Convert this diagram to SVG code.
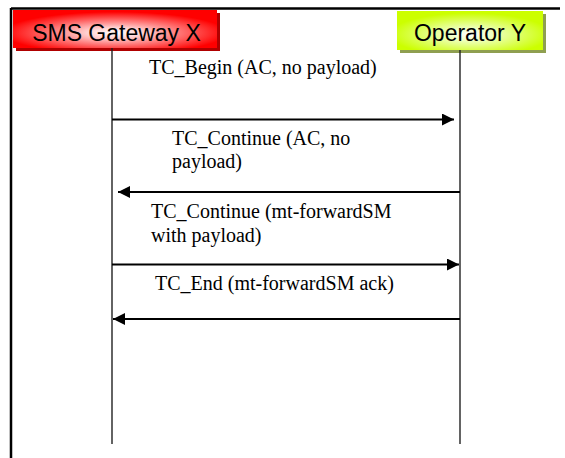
<svg xmlns="http://www.w3.org/2000/svg" width="565" height="458" viewBox="0 0 565 458">
  <style>
    .frame { stroke: #000; stroke-width: 2.5; fill: none; }
    .life { stroke: #222; stroke-width: 1.4; fill: none; }
    .msg { stroke: #000; stroke-width: 1.8; fill: none; marker-end: url(#arrow); }
    .hdr { font-family: "Liberation Sans", Arial, sans-serif; font-size: 23px; fill: #000; text-anchor: middle; }
    .lbl { font-family: "Liberation Serif", "Times New Roman", serif; font-size: 20px; fill: #000; }
  </style>
  <defs>
    <radialGradient id="gRed" cx="50%" cy="60%" r="55%">
      <stop offset="0" stop-color="#ffffff"/>
      <stop offset="0.25" stop-color="#ffd0d0"/>
      <stop offset="1" stop-color="#ff0000"/>
    </radialGradient>
    <radialGradient id="gGreen" cx="50%" cy="60%" r="55%">
      <stop offset="0" stop-color="#ffffff"/>
      <stop offset="0.25" stop-color="#f0ffc8"/>
      <stop offset="1" stop-color="#ccff00"/>
    </radialGradient>
    <marker id="arrow" markerUnits="userSpaceOnUse" markerWidth="12" markerHeight="12" refX="12" refY="6" orient="auto">
      <path d="M0,0 L12,6 L0,12 z" fill="#000"/>
    </marker>
  </defs>

  <g id="frame">
    <line class="frame" x1="11" y1="8.5" x2="560" y2="8.5"/>
    <line class="frame" x1="11" y1="8" x2="11" y2="458"/>
  </g>

  <g id="gateway">
    <rect x="16" y="13" width="204" height="38" fill="#b00000"/>
    <rect x="13" y="10" width="204" height="38" fill="url(#gRed)"/>
    <text class="hdr" x="116.5" y="41">SMS Gateway X</text>
    <line class="life" x1="112" y1="48" x2="112" y2="444"/>
  </g>

  <g id="operator">
    <rect x="400" y="14" width="146" height="39" fill="#8f9f50"/>
    <rect x="397" y="11" width="146" height="39" fill="url(#gGreen)"/>
    <text class="hdr" x="470" y="41">Operator Y</text>
    <line class="life" x1="460" y1="50" x2="460" y2="444"/>
  </g>

  <g id="connectors">
    <line class="msg" x1="112" y1="119.5" x2="454" y2="119.5"/>
    <line class="msg" x1="460" y1="192" x2="118" y2="192"/>
    <line class="msg" x1="112" y1="264.5" x2="459" y2="264.5"/>
    <line class="msg" x1="460" y1="319" x2="113" y2="319"/>
  </g>

  <g id="labels">
    <text class="lbl" x="149" y="74">TC_Begin (AC, no payload)</text>
    <text class="lbl" x="172" y="145">TC_Continue (AC, no</text>
    <text class="lbl" x="172" y="168">payload)</text>
    <text class="lbl" x="151" y="218">TC_Continue (mt-forwardSM</text>
    <text class="lbl" x="151" y="241.5">with payload)</text>
    <text class="lbl" x="155" y="290">TC_End (mt-forwardSM ack)</text>
  </g>
</svg>
